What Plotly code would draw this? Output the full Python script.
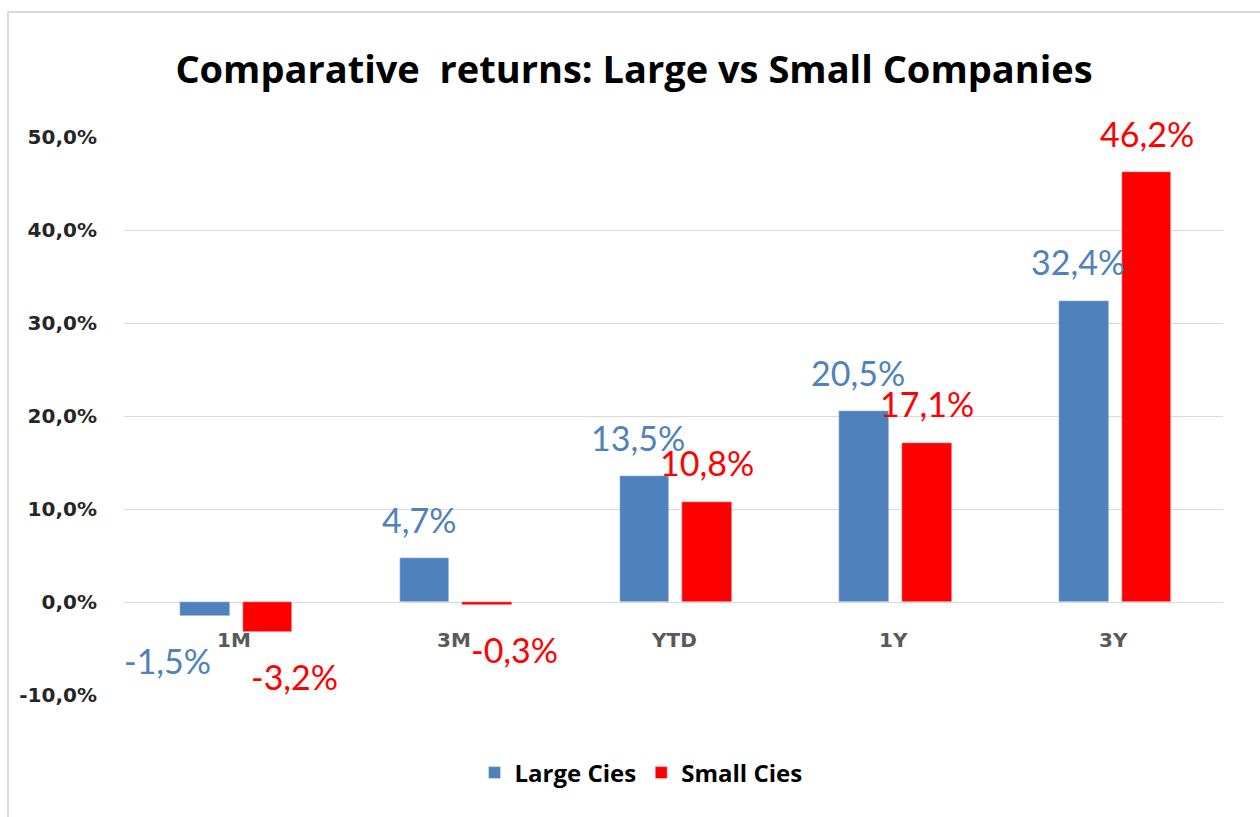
import plotly.graph_objects as go

categories = ["1M", "3M", "YTD", "1Y", "3Y"]
large_cies = [-1.5, 4.7, 13.5, 20.5, 32.4]
small_cies = [-3.2, -0.3, 10.8, 17.1, 46.2]
y_ticks = [-10, 0, 10, 20, 30, 40, 50]

BLUE = "#4F81BD"
RED = "#FF0000"
BAR_W = 0.225
OFF_L = -0.245
OFF_S = 0.04


def fmt(v):
    return f"{v:.1f}".replace(".", ",") + "%"


fig = go.Figure()
fig.add_trace(go.Bar(name="Large Cies", x=categories, y=large_cies, marker_color=BLUE,
                     width=BAR_W, offset=OFF_L))
fig.add_trace(go.Bar(name="Small Cies", x=categories, y=small_cies, marker_color=RED,
                     width=BAR_W, offset=OFF_S))

annotations = []
for series, off, col, pos_shift, neg_shift in [(large_cies, OFF_L, BLUE, -6, -37),
                                                (small_cies, OFF_S, RED, 0, 27)]:
    for i, v in enumerate(series):
        annotations.append(dict(
            x=i + off + BAR_W / 2, y=v, xref="x", yref="y", text=fmt(v),
            showarrow=False, yanchor="middle",
            yshift=39 if v >= 0 else -45,
            xshift=pos_shift if v >= 0 else neg_shift,
            font=dict(family="Lato", size=34, color=col)))

for i, c in enumerate(categories):
    annotations.append(dict(
        x=i, y=0, xref="x", yref="y", text=c, showarrow=False,
        yanchor="middle", yshift=-38,
        font=dict(family="DejaVu Sans", size=20, color="#595959", weight="bold")))

L, R, T, B = 124, 37, 137, 122
W, H = 1260, 817
pw, ph = W - L - R, H - T - B

fig.update_layout(
    width=W, height=H,
    margin=dict(l=L, r=R, t=T, b=B),
    paper_bgcolor="white", plot_bgcolor="white",
    title=dict(text="<b>Comparative  returns: Large vs Small Companies</b>",
               x=634 / W, xanchor="center", y=1 - 70 / H, yanchor="middle",
               xref="container", yref="container",
               font=dict(family="Open Sans", size=38, color="black")),
    xaxis=dict(type="category", range=[-0.5, 4.5], showticklabels=False,
               showgrid=False, showline=False, zeroline=False),
    yaxis=dict(range=[-10, 50], tickvals=y_ticks, ticktext=[fmt(t) for t in y_ticks],
               showgrid=True, gridcolor="#D9D9D9", gridwidth=1,
               zeroline=True, zerolinecolor="#D9D9D9", zerolinewidth=1,
               showline=False, ticklabelstandoff=26,
               tickfont=dict(family="DejaVu Sans", size=20, color="#262626", weight="bold")),
    showlegend=True,
    legend=dict(orientation="h", x=(641 - L) / pw, xanchor="center", y=(ph - (773 - T)) / ph,
                yanchor="middle",
                font=dict(family="Open Sans", size=24, color="black", weight="bold"),
                itemwidth=30, traceorder="normal"),
    annotations=annotations,
    shapes=[dict(type="rect", xref="paper", yref="paper",
                 x0=(8 - L) / pw, x1=(1275 - L) / pw,
                 y0=(H - B - 830) / ph, y1=(H - B - 12) / ph,
                 line=dict(color="#D9D9D9", width=2), fillcolor="rgba(0,0,0,0)", layer="below")],
    bargap=0,
)

fig.write_html("out.html", config={"displayModeBar": False},
               post_script="document.body.style.margin='0px';")
